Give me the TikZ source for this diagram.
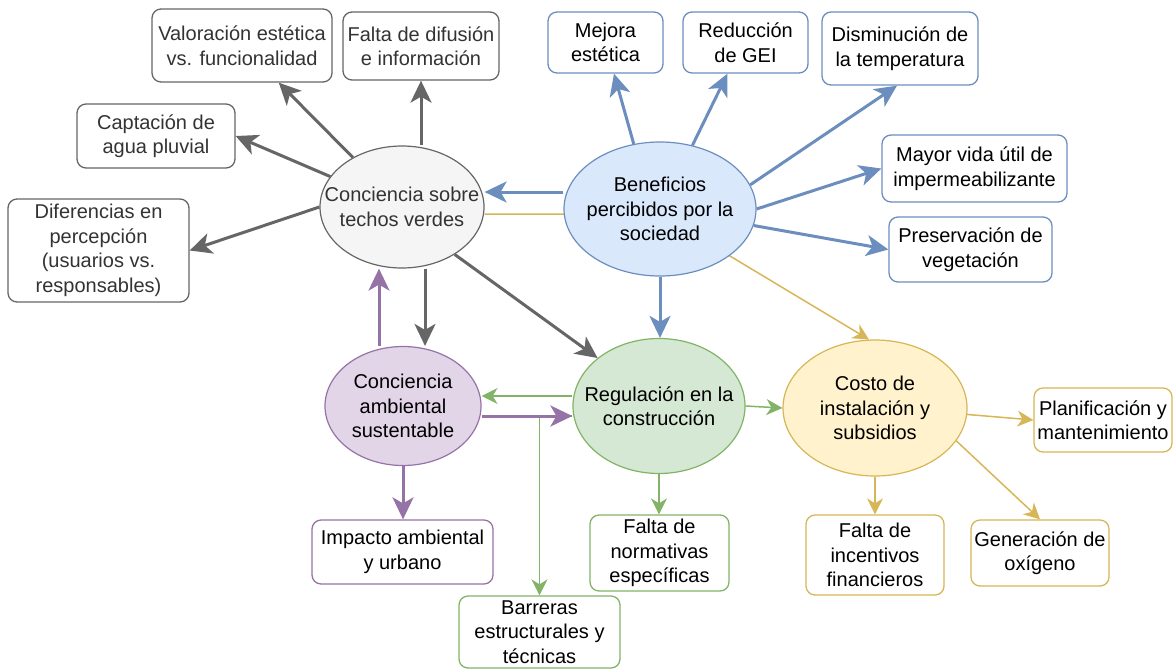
\documentclass[tikz,border=0pt]{standalone}
\usepackage{fontspec}
\setmainfont{Liberation Sans}
\usetikzlibrary{arrows.meta,calc,shapes.geometric}
\definecolor{grayS}{HTML}{666666}
\definecolor{grayF}{HTML}{F5F5F5}
\definecolor{grayT}{HTML}{333333}
\definecolor{blueS}{HTML}{6C8EBF}
\definecolor{blueF}{HTML}{DAE8FC}
\definecolor{purS}{HTML}{9673A6}
\definecolor{purF}{HTML}{E1D5E7}
\definecolor{grnS}{HTML}{82B366}
\definecolor{grnF}{HTML}{D5E8D4}
\definecolor{yelS}{HTML}{D6B656}
\definecolor{yelF}{HTML}{FFF2CC}
\pgfdeclarelayer{bg}
\pgfsetlayers{bg,main}
\begin{document}
\begin{tikzpicture}[x=1pt,y=-1pt,
  every node/.style={font=\fontsize{20}{24.5}\selectfont, align=center, inner sep=0pt},
  box/.style={draw, rounded corners=9pt, fill=white, line width=1.3pt},
  ell/.style={draw, ellipse, line width=1.2pt},
  txt/.style={},
  thick/.style={line width=3pt, -{Stealth[length=22pt 0,width=21pt 0,inset=6pt 0]}},
  thin/.style={line width=1.5pt, -{Stealth[length=16pt 0,width=16pt 0,inset=5pt 0]}}]
\useasboundingbox (0,0) rectangle (1174,670);

% ---------- ellipses ----------
\node[ell, draw=grayS, fill=grayF, minimum width=164pt, minimum height=122pt] (techos) at (402,207) {};
\node[ell, draw=blueS, fill=blueF, minimum width=192pt, minimum height=134pt] (ben) at (660,209) {};
\node[ell, draw=purS, fill=purF, minimum width=156pt, minimum height=119pt] (amb) at (403,406) {};
\node[ell, draw=grnS, fill=grnF, minimum width=172pt, minimum height=135pt] (reg) at (659,406) {};
\node[ell, draw=yelS, fill=yelF, minimum width=184pt, minimum height=136pt] (cost) at (875,408) {};

\node[txt, text=grayT] (techosT) at (techos) {Conciencia sobre\\techos verdes};
\node[txt] (benT) at (ben) {Beneficios\\percibidos por la\\sociedad};
\node[txt] (ambT) at (amb) {Conciencia\\ambiental\\sustentable};
\node[txt] (regT) at (reg) {Regulación en la\\construcción};
\node[txt] (costT) at (cost) {Costo de\\instalación y\\subsidios};

% ---------- boxes ----------
\node[box, draw=grayS, text=grayT, minimum width=180pt, minimum height=73pt] (val) at (242,45.5) {Valoración estética\\vs. funcionalidad};
\node[box, draw=grayS, text=grayT, minimum width=156pt, minimum height=68pt] (dif) at (421,46) {Falta de difusión\\e información};
\node[box, draw=grayS, text=grayT, minimum width=158pt, minimum height=64pt] (cap) at (156,136) {Captación de\\agua pluvial};
\node[box, draw=grayS, text=grayT, minimum width=181pt, minimum height=103pt] (dife) at (98.5,250.5) {Diferencias en\\percepción\\(usuarios vs.\\responsables)};

\node[box, draw=blueS, minimum width=115pt, minimum height=61pt] (mej) at (605.5,42.5) {Mejora\\estética};
\node[box, draw=blueS, minimum width=125pt, minimum height=61pt] (red) at (745.5,42.5) {Reducción\\de GEI};
\node[box, draw=blueS, minimum width=156pt, minimum height=73pt] (dis) at (900,48.5) {Disminución de\\la temperatura};
\node[box, draw=blueS, minimum width=185pt, minimum height=67pt] (may) at (974.5,168.5) {Mayor vida útil de\\impermeabilizante};
\node[box, draw=blueS, minimum width=163pt, minimum height=65pt] (pre) at (970.5,249.5) {Preservación de\\vegetación};

\node[box, draw=purS, minimum width=181pt, minimum height=64pt] (imp) at (402.5,552) {Impacto ambiental\\y urbano};
\node[box, draw=grnS, minimum width=161pt, minimum height=72pt] (bar) at (539.5,632) {Barreras\\estructurales y\\técnicas};
\node[box, draw=grnS, minimum width=139pt, minimum height=76pt] (fnorm) at (659.5,553) {Falta de\\normativas\\específicas};

\node[box, draw=yelS, minimum width=138pt, minimum height=64pt] (plan) at (1103,420) {Planificación y\\mantenimiento};
\node[box, draw=yelS, minimum width=138pt, minimum height=80pt] (finc) at (875,555) {Falta de\\incentivos\\financieros};
\node[box, draw=yelS, minimum width=138pt, minimum height=66pt] (gen) at (1040,553) {Generación de\\oxígeno};

% ---------- connectors ----------
\begin{pgfonlayer}{bg}
\draw[thin, draw=yelS] ([yshift=-7pt]techos.east) -- ([yshift=-7pt]techos.east -| ben.center) -- (cost.95);
\end{pgfonlayer}

% grey
\draw[thick, draw=grayS] (techos) -- (val);
\draw[thick, draw=grayS] (techos.north -| dif.south) -- (dif.south);
\draw[thick, draw=grayS] (techos.157) -- (cap.east);
\draw[thick, draw=grayS] (techos.west) -- (dife.east);
\draw[thick, draw=grayS] ([xshift=23pt]techos.south) -- ([xshift=22pt]amb.north);
\draw[thick, draw=grayS] (techos.-42) -- (reg.142);

% blue
\draw[thick, draw=blueS] ([yshift=17pt]ben.west) -- ([yshift=17pt]ben.west -| techos.east);
\draw[thick, draw=blueS] (ben.112) -- ([xshift=8.5pt]mej.south);
\draw[thick, draw=blueS] (ben.63) -- ([xshift=-18pt]red.south);
\draw[thick, draw=blueS] (ben.15) -- ([xshift=-3pt]dis.south);
\draw[thick, draw=blueS] (ben.east) -- (may.west);
\draw[thick, draw=blueS] (ben.-10) -- (pre.west);
\draw[thick, draw=blueS] (ben.south) -- (ben.south |- reg.north);

% green
\draw[thin, draw=grnS] ([yshift=-10pt]reg.west) -- ([yshift=-10pt]reg.west -| bar.north) -- (bar.north);
\draw[thin, draw=grnS] ([yshift=10pt]reg.west) -- ([yshift=10pt]reg.west -| amb.east);
\draw[thin, draw=grnS] (reg.south) -- (reg.south |- fnorm.north);
\draw[thin, draw=grnS] (reg.east) -- (cost.west);

% purple
\draw[thick, draw=purS] ([yshift=-10pt]amb.east) -- ([yshift=-10pt]amb.east -| reg.west);
\draw[thick, draw=purS] ([xshift=-24pt]amb.north) -- ([xshift=-23pt]techos.south);
\draw[thick, draw=purS] (amb.south) -- (amb.south |- imp.north);

% yellow
\draw[thin, draw=yelS] (cost.-4) -- (plan.west);
\draw[thin, draw=yelS] (cost.south) -- (finc.north);
\draw[thin, draw=yelS] (cost.-22) -- (gen.north);
\end{tikzpicture}
\end{document}
